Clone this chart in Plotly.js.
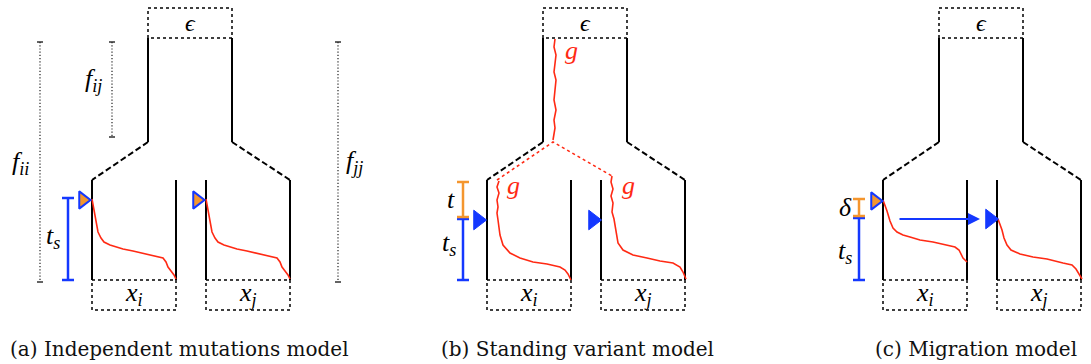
<!DOCTYPE html>
<html><head>
<script src="https://cdn.plot.ly/plotly-3.0.1.min.js"></script>
</head><body style="margin:0"><div id="chart"></div>
<script>
// ---- diagram data ----
const panelShift = [0, 395, 791];
const captions = ["(a) Independent mutations model", "(b) Standing variant model", "(c) Migration model"];
const captionX = [8, 439, 873];

// population tree frame (panel a coordinates; repeated for each panel)
const stemX = [148, 232];
const stemY = [38, 142];
const columnX = [92, 176, 206, 290];
const columnY = [180, 280];
const epsBoxX = [148, 232];
const epsBoxY = [8, 38];
const popBoxX = [[92, 176], [206, 290]];
const popBoxY = [280, 310];
const popLabels = ["<i>x</i><sub><i>i</i></sub>", "<i>x</i><sub><i>j</i></sub>"];
const epsLabel = "<i>\u03f5</i>";
const deltaLabel = "<i>\u03b4</i>";

// F-statistic ranges (panel a)
const fLineX = [40, 112, 338];
const fLineTop = [42, 42, 42];
const fLineBottom = [282, 137, 282];
const fLabels = ["<i>f</i><sub><i>ii</i></sub>", "<i>f</i><sub><i>ij</i></sub>", "<i>f</i><sub><i>jj</i></sub>"];
const fLabelX = [20, 93, 354];
const fLabelY = [163, 80, 162];

// allele frequency trajectories (red)
const trajA1x = [92, 94, 96, 98, 101, 104, 110, 117, 123, 133, 147, 157, 163, 166, 168, 171, 174, 176];
const trajA1y = [199, 210, 222, 232, 238, 242, 245, 247, 249, 251, 254, 256, 258, 262, 267, 271, 275, 279];
const trajA2x = [206, 208, 210, 212, 215, 218, 224, 231, 237, 247, 261, 271, 277, 280, 282, 285, 288, 290];
const trajA2y = [199, 210, 222, 232, 238, 242, 245, 247, 249, 251, 254, 256, 258, 262, 267, 271, 275, 279];
const trajBtopX = [555, 554, 556, 555, 554, 556, 555, 554, 556, 554, 555, 554, 553];
const trajBtopY = [39, 47, 55, 63, 72, 80, 90, 100, 110, 120, 128, 134, 140];
const trajB1x = [499, 497, 499, 497, 498, 497, 498, 499, 500, 503, 510, 520, 533, 547, 560, 565, 568, 571];
const trajB1y = [181, 187, 193, 200, 207, 213, 220, 227, 235, 245, 253, 258, 262, 264, 267, 270, 274, 280];
const trajB2x = [612, 611, 613, 611, 613, 612, 614, 615, 616, 618, 623, 633, 647, 660, 673, 680, 683, 686];
const trajB2y = [176, 182, 189, 196, 203, 212, 219, 226, 233, 243, 250, 255, 258, 261, 263, 267, 272, 279];
const trajC1x = [883, 885, 887, 890, 893, 897, 903, 910, 920, 933, 947, 955, 959, 961, 963, 965, 967];
const trajC1y = [200, 205, 211, 221, 228, 232, 235, 237, 240, 242, 245, 247, 250, 254, 258, 260, 262];
const trajC2x = [998, 1000, 1002, 1004, 1007, 1011, 1020, 1033, 1047, 1063, 1072, 1076, 1078, 1080, 1082];
const trajC2y = [219, 224, 230, 238, 245, 250, 254, 257, 259, 263, 265, 269, 272, 275, 279];
// standing variant split (red dotted)
const splitX = [497, 553, 612];
const splitY = [180, 142, 176];

// time bars
const blueBarX = [68, 463, 859];
const blueBarTop = [198, 219, 218];
const blueBarBottom = [280, 280, 280];
const orangeBarX = [463, 859];
const orangeBarTop = [182, 199];
const orangeBarBottom = [217, 216];

// mutation / arrival markers
const newMutX = [83, 197, 875];
const newMutY = [200, 200, 201];
const standingX = [478, 593, 990];
const standingY = [220, 220, 219];
const migrationArrow = {x0: 898, x1: 980, y: 219};

(function () {
  const BLACK = "#000", RED = "#ff2a14", BLUE = "#1438ff", ORANGE = "#f4962e";
  const segs = list => {
    const x = [], y = [];
    list.forEach(p => { p.forEach(q => { x.push(q[0]); y.push(q[1]); }); x.push(null); y.push(null); });
    return {x, y};
  };
  const solid = [], dashed = [], boxes = [];
  panelShift.forEach(d => {
    stemX.forEach(sx => solid.push([[sx + d, stemY[0]], [sx + d, stemY[1]]]));
    columnX.forEach(cx => solid.push([[cx + d, columnY[0]], [cx + d, columnY[1]]]));
    dashed.push([[stemX[0] + d, stemY[1]], [columnX[0] + d, columnY[0]]]);
    dashed.push([[stemX[1] + d, stemY[1]], [columnX[3] + d, columnY[0]]]);
    boxes.push([[epsBoxX[0] + d, epsBoxY[1]], [epsBoxX[0] + d, epsBoxY[0]], [epsBoxX[1] + d, epsBoxY[0]], [epsBoxX[1] + d, epsBoxY[1]], [epsBoxX[0] + d, epsBoxY[1]]]);
    popBoxX.forEach(b => boxes.push([[b[0] + d, popBoxY[0]], [b[1] + d, popBoxY[0]], [b[1] + d, popBoxY[1]], [b[0] + d, popBoxY[1]], [b[0] + d, popBoxY[0]]]));
  });
  const fl = [], flCaps = [];
  fLineX.forEach((x, i) => {
    fl.push([[x, fLineTop[i]], [x, fLineBottom[i]]]);
    flCaps.push([[x - 3, fLineTop[i]], [x + 3, fLineTop[i]]]);
    flCaps.push([[x - 3, fLineBottom[i]], [x + 3, fLineBottom[i]]]);
  });
  const ibar = (xs, tops, bots) => {
    const l = [];
    xs.forEach((x, i) => {
      l.push([[x, tops[i]], [x, bots[i]]]);
      l.push([[x - 6, tops[i]], [x + 6, tops[i]]]);
      l.push([[x - 6, bots[i]], [x + 6, bots[i]]]);
    });
    return l;
  };
  const ln = (s, color, width, dash) => Object.assign({type: "scatter", mode: "lines", hoverinfo: "skip", showlegend: false,
    line: {color: color, width: width, dash: dash || "solid"}, connectgaps: false}, s);
  const traces = [
    ln(segs(solid), BLACK, 2),
    ln(segs(dashed), BLACK, 2, "6px,3px"),
    ln(segs(boxes), BLACK, 1.5, "3px,3px"),
    ln(segs(fl), "#222", 1.2, "1.2px,2px"),
    ln(segs(flCaps), "#222", 1.4),
    ln({x: trajA1x, y: trajA1y}, RED, 1.6),
    ln({x: trajA2x, y: trajA2y}, RED, 1.6),
    ln({x: trajBtopX, y: trajBtopY}, RED, 1.6),
    ln({x: trajB1x, y: trajB1y}, RED, 1.6),
    ln({x: trajB2x, y: trajB2y}, RED, 1.6),
    ln({x: trajC1x, y: trajC1y}, RED, 1.6),
    ln({x: trajC2x, y: trajC2y}, RED, 1.6),
    ln(segs([[[splitX[0], splitY[0]], [splitX[1], splitY[1]], [splitX[2], splitY[2]]]]), RED, 1.6, "3px,3px"),
    ln(segs(ibar(blueBarX, blueBarTop, blueBarBottom)), BLUE, 2.5),
    ln(segs(ibar(orangeBarX, orangeBarTop, orangeBarBottom)), ORANGE, 2.5),
    {type: "scatter", mode: "markers", x: newMutX, y: newMutY, hoverinfo: "skip", showlegend: false,
     marker: {symbol: "triangle-right", size: 15, color: ORANGE, line: {color: BLUE, width: 2}}},
    {type: "scatter", mode: "markers", x: standingX, y: standingY, hoverinfo: "skip", showlegend: false,
     marker: {symbol: "triangle-right", size: 17, color: BLUE, line: {color: BLUE, width: 1}}}
  ];

  const ann = [];
  const lab = (x, y, text, color, size) => ann.push({x: x, y: y, xref: "x", yref: "y", text: text, showarrow: false,
    font: {family: "Liberation Serif", size: size || 26, color: color || BLACK}});
  captions.forEach((c, i) => ann.push({x: captionX[i], y: 349, xref: "x", yref: "y", xanchor: "left", showarrow: false,
    text: c, font: {family: "DejaVu Serif", size: 20, color: "#111"}}));
  panelShift.forEach(d => {
    lab((epsBoxX[0] + epsBoxX[1]) / 2 + d, (epsBoxY[0] + epsBoxY[1]) / 2, epsLabel, BLACK, 24);
    popBoxX.forEach((b, i) => lab((b[0] + b[1]) / 2 + d, (popBoxY[0] + popBoxY[1]) / 2 - 1, popLabels[i]));
  });
  fLabels.forEach((t, i) => lab(fLabelX[i], fLabelY[i], t));
  lab(53, 237, "<i>t</i><sub><i>s</i></sub>");
  lab(449, 244, "<i>t</i><sub><i>s</i></sub>");
  lab(845, 252, "<i>t</i><sub><i>s</i></sub>");
  lab(451, 199, "<i>t</i>");
  lab(845, 207, deltaLabel);
  lab(571, 50, "<i>g</i>", RED);
  lab(513, 185, "<i>g</i>", RED);
  lab(628, 185, "<i>g</i>", RED);
  ann.push({x: migrationArrow.x1, y: migrationArrow.y, ax: migrationArrow.x0, ay: migrationArrow.y,
    xref: "x", yref: "y", axref: "x", ayref: "y", text: "", showarrow: true, arrowhead: 2, arrowsize: 1.2,
    arrowwidth: 2, arrowcolor: BLUE});

  Plotly.newPlot("chart", traces, {
    width: 1091, height: 364, margin: {l: 0, r: 0, t: 0, b: 0},
    xaxis: {range: [0, 1091], visible: false}, yaxis: {range: [364, 0], visible: false},
    annotations: ann, showlegend: false, hovermode: false
  }, {displayModeBar: false});
})();
</script></body></html>
